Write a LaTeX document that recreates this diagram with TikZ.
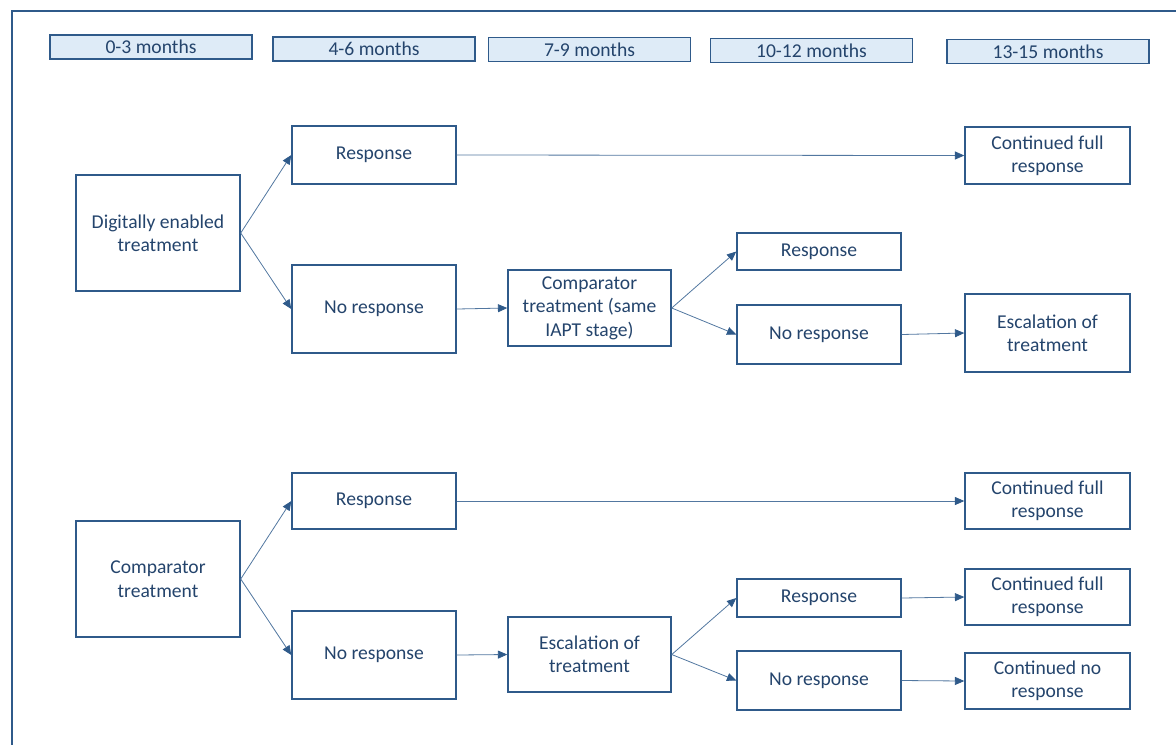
\documentclass[tikz,border=0pt]{standalone}
\usepackage{fontspec}
\setmainfont{Carlito}
\usetikzlibrary{arrows.meta}
\definecolor{boxline}{HTML}{2F5A8A}
\definecolor{boxtext}{HTML}{24446C}
\definecolor{arrowline}{HTML}{5277A0}
\definecolor{headfill}{HTML}{DEEBF7}

\begin{document}
\begin{tikzpicture}[x=0.75pt,y=-0.75pt,
  box/.style={draw=boxline,line width=1.1pt,text=boxtext,inner sep=0pt,align=center,font=\fontsize{14.7}{17.6}\selectfont},
  head/.style={box,fill=headfill,minimum width=151.5pt,minimum height=18pt},
  link/.style={draw=arrowline,line width=0.6pt,-{Triangle[length=7pt,width=6pt,fill=boxline,color=boxline]}}]
\useasboundingbox (0,0) rectangle (1176,744);
\clip (0,0) rectangle (1176,744);
\draw[boxline,line width=1.1pt] (12,760) -- (12,11) -- (1190,11);

\node[head] (m1) at (151,47) {0-3 months};
\node[head] (m2) at (374,49) {4-6 months};
\node[head] (m3) at (589.5,49.5) {7-9 months};
\node[head] (m4) at (811.5,50.5) {10-12 months};
\node[head] (m5) at (1048,51.5) {13-15 months};

\node[box,minimum width=123pt,minimum height=87pt] (det) at (158,233) {Digitally enabled\\treatment};
\node[box,minimum width=123pt,minimum height=43.5pt] (resA) at (374,155) {Response};
\node[box,minimum width=123pt,minimum height=66pt] (noA) at (374,309) {No response};
\node[box,minimum width=122.25pt,minimum height=57pt] (compB) at (589.5,308) {Comparator\\treatment (same\\IAPT stage)};
\node[box,minimum width=123pt,minimum height=27.75pt] (resB) at (819,251.5) {Response};
\node[box,minimum width=123pt,minimum height=44.25pt] (noB) at (819,334.5) {No response};
\node[box,minimum width=123.75pt,minimum height=42.75pt] (fullA) at (1047.5,155.5) {Continued full\\response};
\node[box,minimum width=123.75pt,minimum height=58.5pt] (escA) at (1047.5,333) {Escalation of\\treatment};

\node[box,minimum width=123pt,minimum height=87pt] (comp) at (158,579) {Comparator\\treatment};
\node[box,minimum width=123pt,minimum height=42pt] (resC) at (374,501) {Response};
\node[box,minimum width=123pt,minimum height=66pt] (noC) at (374,655) {No response};
\node[box,minimum width=122.25pt,minimum height=56.25pt] (escB) at (589.5,654.5) {Escalation of\\treatment};
\node[box,minimum width=123pt,minimum height=28.5pt] (resD) at (819,598) {Response};
\node[box,minimum width=123pt,minimum height=44.25pt] (noD) at (819,680.5) {No response};
\node[box,minimum width=123.75pt,minimum height=42pt] (fullB) at (1047.5,501) {Continued full\\response};
\node[box,minimum width=123.75pt,minimum height=42pt] (fullC) at (1047.5,597) {Continued full\\response};
\node[box,minimum width=123.75pt,minimum height=42pt] (noneC) at (1047.5,681) {Continued no\\response};

\draw[link] (det.east) -- (resA.west);
\draw[link] (det.east) -- (noA.west);
\draw[link] (resA.east) -- (fullA.west);
\draw[link] (noA.east) -- (compB.west);
\draw[link] (compB.east) -- (resB.west);
\draw[link] (compB.east) -- (noB.west);
\draw[link] (noB.east) -- (escA.west);

\draw[link] (comp.east) -- (resC.west);
\draw[link] (comp.east) -- (noC.west);
\draw[link] (resC.east) -- (fullB.west);
\draw[link] (noC.east) -- (escB.west);
\draw[link] (escB.east) -- (resD.west);
\draw[link] (escB.east) -- (noD.west);
\draw[link] (resD.east) -- (fullC.west);
\draw[link] (noD.east) -- (noneC.west);

\end{tikzpicture}
\end{document}
